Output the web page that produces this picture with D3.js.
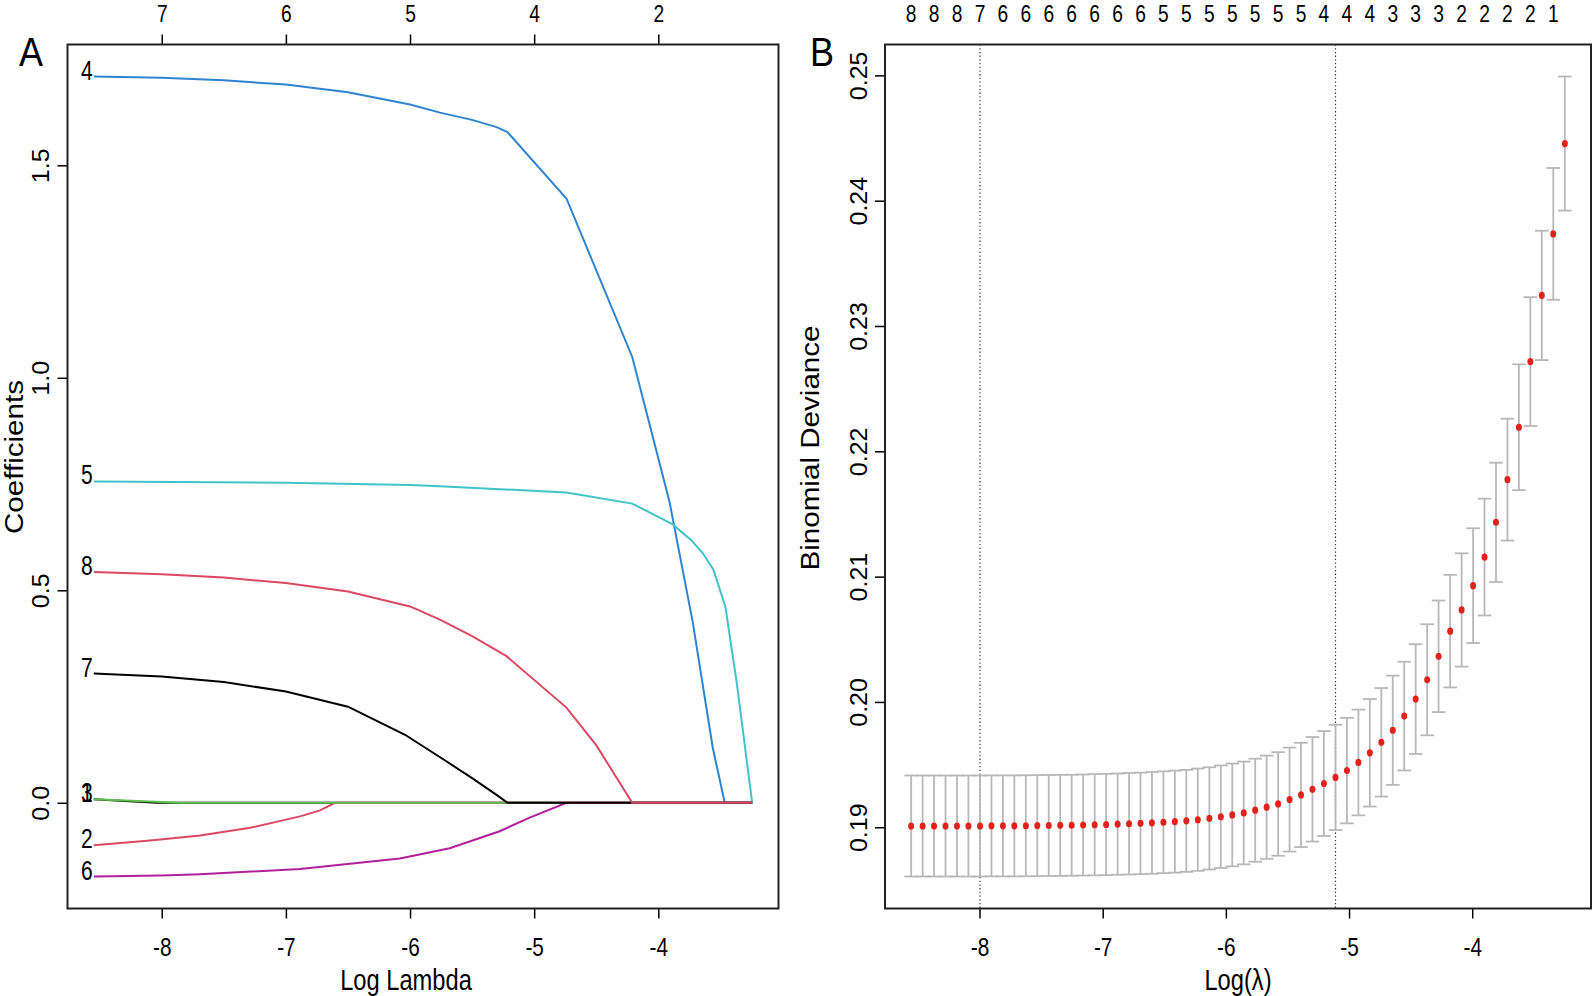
<!DOCTYPE html>
<html>
<head>
<meta charset="utf-8">
<title>Lasso paths and CV deviance</title>
<script src="https://d3js.org/d3.v7.min.js"></script>
<style>
  body { margin: 0; background: #fff; }
  text { font-family: "Liberation Sans", Arial, Helvetica, sans-serif; fill: #000; }
</style>
</head>
<body>
<div id="chart"></div>
<script>
// ---------- panel A: coefficient paths (log lambda, coefficient) ----------
const lam1 = [-8.547, -8.30, -8.04, -3.244];
const coef1 = [0.008, 0.004, 0, 0];
const lam2 = [-8.547, -8.093, -7.690, -7.288, -6.886, -6.725, -6.604, -3.244];
const coef2 = [-0.100, -0.089, -0.077, -0.059, -0.032, -0.018, 0, 0];
const lam3 = [-8.547, -8.20, -7.85, -3.244];
const coef3 = [0.008, 0.004, 0, 0];
const lam4 = [-8.547, -8.0, -7.5, -7.0, -6.5, -6.0, -5.759, -5.5, -5.303, -5.215, -4.74, -4.21, -3.909, -3.722, -3.561, -3.465, -3.244];
const coef4 = [1.709, 1.706, 1.700, 1.690, 1.672, 1.643, 1.624, 1.607, 1.590, 1.578, 1.422, 1.049, 0.707, 0.424, 0.129, 0, 0];
const lam5 = [-8.547, -7.0, -6.0, -5.759, -4.74, -4.21, -3.883, -3.735, -3.641, -3.555, -3.459, -3.368, -3.244];
const coef5 = [0.756, 0.753, 0.748, 0.745, 0.730, 0.704, 0.655, 0.618, 0.587, 0.548, 0.460, 0.282, 0];
const lam6 = [-8.547, -8.0, -7.690, -6.886, -6.082, -5.680, -5.278, -5.036, -4.74, -3.244];
const coef6 = [-0.1735, -0.171, -0.168, -0.156, -0.131, -0.107, -0.067, -0.035, 0, 0];
const lam7 = [-8.547, -8.0, -7.5, -7.0, -6.5, -6.04, -5.72, -5.5, -5.30, -5.215, -3.244];
const coef7 = [0.304, 0.297, 0.284, 0.262, 0.226, 0.160, 0.100, 0.058, 0.018, 0, 0];
const lam8 = [-8.547, -8.0, -7.5, -7.0, -6.5, -6.0, -5.759, -5.5, -5.223, -4.74, -4.499, -4.21, -3.244];
const coef8 = [0.543, 0.538, 0.530, 0.517, 0.497, 0.462, 0.431, 0.392, 0.345, 0.224, 0.135, 0, 0];

const varLabels = ["1", "2", "3", "4", "5", "6", "7", "8"];
const varColors = ["#000000", "#dc4862", "#5cc04c", "#2f84d0", "#3fc4c9", "#b0209a", "#000000", "#dc4862"];

const ticksA_x = [-8, -7, -6, -5, -4];
const topDfA = ["7", "6", "5", "4", "2"];
const ticksA_y = [0, 0.5, 1.0, 1.5];

// ---------- panel B: cross-validated binomial deviance ----------
const logLam = [-8.555, -8.462, -8.369, -8.276, -8.183, -8.090, -7.996, -7.903, -7.810, -7.717,
  -7.624, -7.531, -7.438, -7.345, -7.252, -7.159, -7.065, -6.972, -6.879, -6.786,
  -6.693, -6.600, -6.507, -6.414, -6.321, -6.228, -6.134, -6.041, -5.948, -5.855,
  -5.762, -5.669, -5.576, -5.483, -5.390, -5.297, -5.204, -5.110, -5.017, -4.924,
  -4.831, -4.738, -4.645, -4.552, -4.459, -4.366, -4.273, -4.179, -4.086, -3.993,
  -3.900, -3.807, -3.714, -3.621, -3.528, -3.435, -3.342, -3.248];
const cvm = [0.19010, 0.19010, 0.19010, 0.19010, 0.19010, 0.19010, 0.19010, 0.19011, 0.19011, 0.19011,
  0.19012, 0.19013, 0.19014, 0.19015, 0.19016, 0.19018, 0.19020, 0.19022, 0.19025, 0.19028,
  0.19031, 0.19035, 0.19040, 0.19045, 0.19051, 0.19060, 0.19071, 0.19084, 0.19098, 0.19114,
  0.19136, 0.19160, 0.19186, 0.19221, 0.19258, 0.19303, 0.19349, 0.19398, 0.19452, 0.19517,
  0.19594, 0.19678, 0.19774, 0.19887, 0.20023, 0.20177, 0.20364, 0.20565, 0.20734, 0.20928,
  0.21156, 0.21433, 0.21774, 0.22192, 0.22716, 0.23244, 0.23735, 0.24456];
const cvsd = [0.00403, 0.00403, 0.00403, 0.00403, 0.00403, 0.00403, 0.00403, 0.00403, 0.00403, 0.00403,
  0.00403, 0.00403, 0.00403, 0.00403, 0.00403, 0.00403, 0.00404, 0.00404, 0.00404, 0.00405,
  0.00405, 0.00406, 0.00406, 0.00407, 0.00407, 0.00408, 0.00408, 0.00409, 0.00410, 0.00410,
  0.00411, 0.00412, 0.00413, 0.00415, 0.00416, 0.00417, 0.00418, 0.00420, 0.00421, 0.00422,
  0.00429, 0.00433, 0.00436, 0.00434, 0.00438, 0.00443, 0.00445, 0.00449, 0.00452, 0.00458,
  0.00466, 0.00476, 0.00486, 0.00502, 0.00514, 0.00516, 0.00526, 0.00535];
const nzero = [8, 8, 8, 8, 8, 7, 7, 7, 6, 6,
  6, 6, 6, 6, 6, 6, 6, 6, 6, 6,
  6, 6, 5, 5, 5, 5, 5, 5, 5, 5,
  5, 5, 5, 5, 5, 5, 4, 4, 4, 4,
  4, 4, 3, 3, 3, 3, 3, 2, 2, 2,
  2, 2, 2, 2, 2, 1, 1, 0];
const logLamMin = -7.996;
const logLam1se = -5.110;

const ticksB_x = [-8, -7, -6, -5, -4];
const ticksB_y = [0.19, 0.20, 0.21, 0.22, 0.23, 0.24, 0.25];

// ---------- layout ----------
const W = 1593, H = 996;
const SQ = 0.8;            // horizontal text is squeezed in the figure
const boxA = {l: 67.5, r: 778.5, t: 44.5, b: 908.5};
const boxB = {l: 885, r: 1591, t: 44.5, b: 908.5};
const tickLen = 10;

const svg = d3.select("#chart").append("svg")
  .attr("width", W).attr("height", H);

// R style range: data extent padded by 4% each side
function pad(ext) {
  const d = (ext[1] - ext[0]) * 0.04;
  return [ext[0] - d, ext[1] + d];
}

function label(g, x, y, str, size, anchor, rot, sq) {
  return g.append("text")
    .attr("transform", `translate(${x},${y}) scale(${sq || SQ},1)` + (rot ? " rotate(-90)" : ""))
    .attr("text-anchor", anchor)
    .style("font-size", size + "px")
    .text(str);
}

function styleAxis(g, size) {
  g.select(".domain").remove();
  g.selectAll(".tick line").attr("stroke", "#000").attr("stroke-width", 1.5);
  g.selectAll(".tick text").style("font-size", size + "px")
    .attr("font-family", "Liberation Sans, Arial, sans-serif");
}

// horizontal tick labels below an axis
function bottomLabels(g) {
  g.selectAll(".tick text").attr("y", null).attr("dy", null)
    .attr("transform", `translate(0,47) scale(${SQ},1)`);
}
// labels parallel to a vertical axis
function leftLabels(g) {
  g.selectAll(".tick text").attr("x", null).attr("dy", null)
    .attr("text-anchor", "middle")
    .attr("transform", "translate(-18.5,0) scale(0.93,1) rotate(-90)");
}

// ================= panel A =================
const lamsA = [lam1, lam2, lam3, lam4, lam5, lam6, lam7, lam8];
const coefsA = [coef1, coef2, coef3, coef4, coef5, coef6, coef7, coef8];

const xA = d3.scaleLinear()
  .domain(pad(d3.extent(lamsA.flat())))
  .range([boxA.l, boxA.r]);
const yA = d3.scaleLinear()
  .domain(pad(d3.extent(coefsA.flat())))
  .range([boxA.b, boxA.t]);

const gA = svg.append("g");

const lineA = d3.line().x(d => xA(d[0])).y(d => yA(d[1]));
lamsA.forEach((lam, k) => {
  gA.append("path")
    .attr("d", lineA(d3.zip(lam, coefsA[k])))
    .attr("fill", "none")
    .attr("stroke", varColors[k])
    .attr("stroke-width", 2);
});

// variable numbers at left end of each path
lamsA.forEach((lam, k) => {
  label(gA, xA(lam[0]) - 1, yA(coefsA[k][0]) + 3, varLabels[k], 27, "end", false, 0.78);
});

// bottom axis
const axA_b = gA.append("g")
  .attr("transform", `translate(0,${boxA.b})`)
  .call(d3.axisBottom(xA).tickValues(ticksA_x).tickSize(tickLen).tickFormat(d => String(d)));
styleAxis(axA_b, 26);
bottomLabels(axA_b);

// top axis with number of nonzero coefficients
const axA_t = gA.append("g")
  .attr("transform", `translate(0,${boxA.t})`)
  .call(d3.axisTop(xA).tickValues(ticksA_x).tickSize(tickLen).tickFormat((d, i) => topDfA[i]));
styleAxis(axA_t, 24);
axA_t.selectAll(".tick text").attr("y", null).attr("dy", null)
  .attr("transform", `translate(0,${22 - boxA.t}) scale(${SQ},1)`);

// left axis
const axA_l = gA.append("g")
  .attr("transform", `translate(${boxA.l},0)`)
  .call(d3.axisLeft(yA).tickValues(ticksA_y).tickSize(tickLen).tickFormat(d3.format(".1f")));
styleAxis(axA_l, 25);
leftLabels(axA_l);

gA.append("rect")
  .attr("x", boxA.l).attr("y", boxA.t)
  .attr("width", boxA.r - boxA.l).attr("height", boxA.b - boxA.t)
  .attr("fill", "none").attr("stroke", "#222").attr("stroke-width", 2);

label(gA, 406, 990, "Log Lambda", 29.6, "middle", false);
label(gA, 23, 457, "Coefficients", 29.6, "middle", true, 0.85);
label(gA, 19, 66, "A", 40, "start", false, 0.9);

// ================= panel B =================
const cvup = cvm.map((m, i) => m + cvsd[i]);
const cvlo = cvm.map((m, i) => m - cvsd[i]);

const xB = d3.scaleLinear()
  .domain(pad(d3.extent(logLam)))
  .range([boxB.l, boxB.r]);
const yB = d3.scaleLinear()
  .domain(pad([d3.min(cvlo), d3.max(cvup)]))
  .range([boxB.b, boxB.t]);

const gB = svg.append("g");

// dotted lines at lambda.min and lambda.1se
[logLamMin, logLam1se].forEach(v => {
  gB.append("line")
    .attr("x1", xB(v)).attr("x2", xB(v))
    .attr("y1", boxB.t).attr("y2", boxB.b)
    .attr("stroke", "#333").attr("stroke-width", 1.2)
    .attr("stroke-dasharray", "1.3,2.4");
});

// error bars
const capHalf = 6.8;
const bars = gB.append("g").attr("stroke", "#b8b8b8").attr("stroke-width", 1.8);
logLam.forEach((v, i) => {
  const x = xB(v);
  bars.append("line").attr("x1", x).attr("x2", x).attr("y1", yB(cvup[i])).attr("y2", yB(cvlo[i]));
  bars.append("line").attr("x1", x - capHalf).attr("x2", x + capHalf).attr("y1", yB(cvup[i])).attr("y2", yB(cvup[i]));
  bars.append("line").attr("x1", x - capHalf).attr("x2", x + capHalf).attr("y1", yB(cvlo[i])).attr("y2", yB(cvlo[i]));
});

// mean deviance points
gB.selectAll(".pt")
  .data(logLam)
  .enter()
  .append("ellipse")
  .attr("cx", d => xB(d))
  .attr("cy", (d, i) => yB(cvm[i]))
  .attr("rx", 3).attr("ry", 3.6)
  .attr("fill", "#e3231b");

// bottom axis
const axB_b = gB.append("g")
  .attr("transform", `translate(0,${boxB.b})`)
  .call(d3.axisBottom(xB).tickValues(ticksB_x).tickSize(tickLen).tickFormat(d => String(d)));
styleAxis(axB_b, 26);
bottomLabels(axB_b);

// left axis
const axB_l = gB.append("g")
  .attr("transform", `translate(${boxB.l},0)`)
  .call(d3.axisLeft(yB).tickValues(ticksB_y).tickSize(tickLen).tickFormat(d3.format(".2f")));
styleAxis(axB_l, 25);
leftLabels(axB_l);

// top labels: number of nonzero coefficients, every other lambda (R drops overlaps)
logLam.forEach((v, i) => {
  if (i % 2 === 0) label(gB, xB(v), 22, String(nzero[i]), 24, "middle", false);
});

gB.append("rect")
  .attr("x", boxB.l).attr("y", boxB.t)
  .attr("width", boxB.r - boxB.l).attr("height", boxB.b - boxB.t)
  .attr("fill", "none").attr("stroke", "#222").attr("stroke-width", 2);

label(gB, (boxB.l + boxB.r) / 2, 990, "Log(λ)", 29.6, "middle", false);
label(gB, 819, 448, "Binomial Deviance", 29.6, "middle", true, 0.88);
label(gB, 810, 66, "B", 40, "start", false, 0.9);
</script>
</body>
</html>
